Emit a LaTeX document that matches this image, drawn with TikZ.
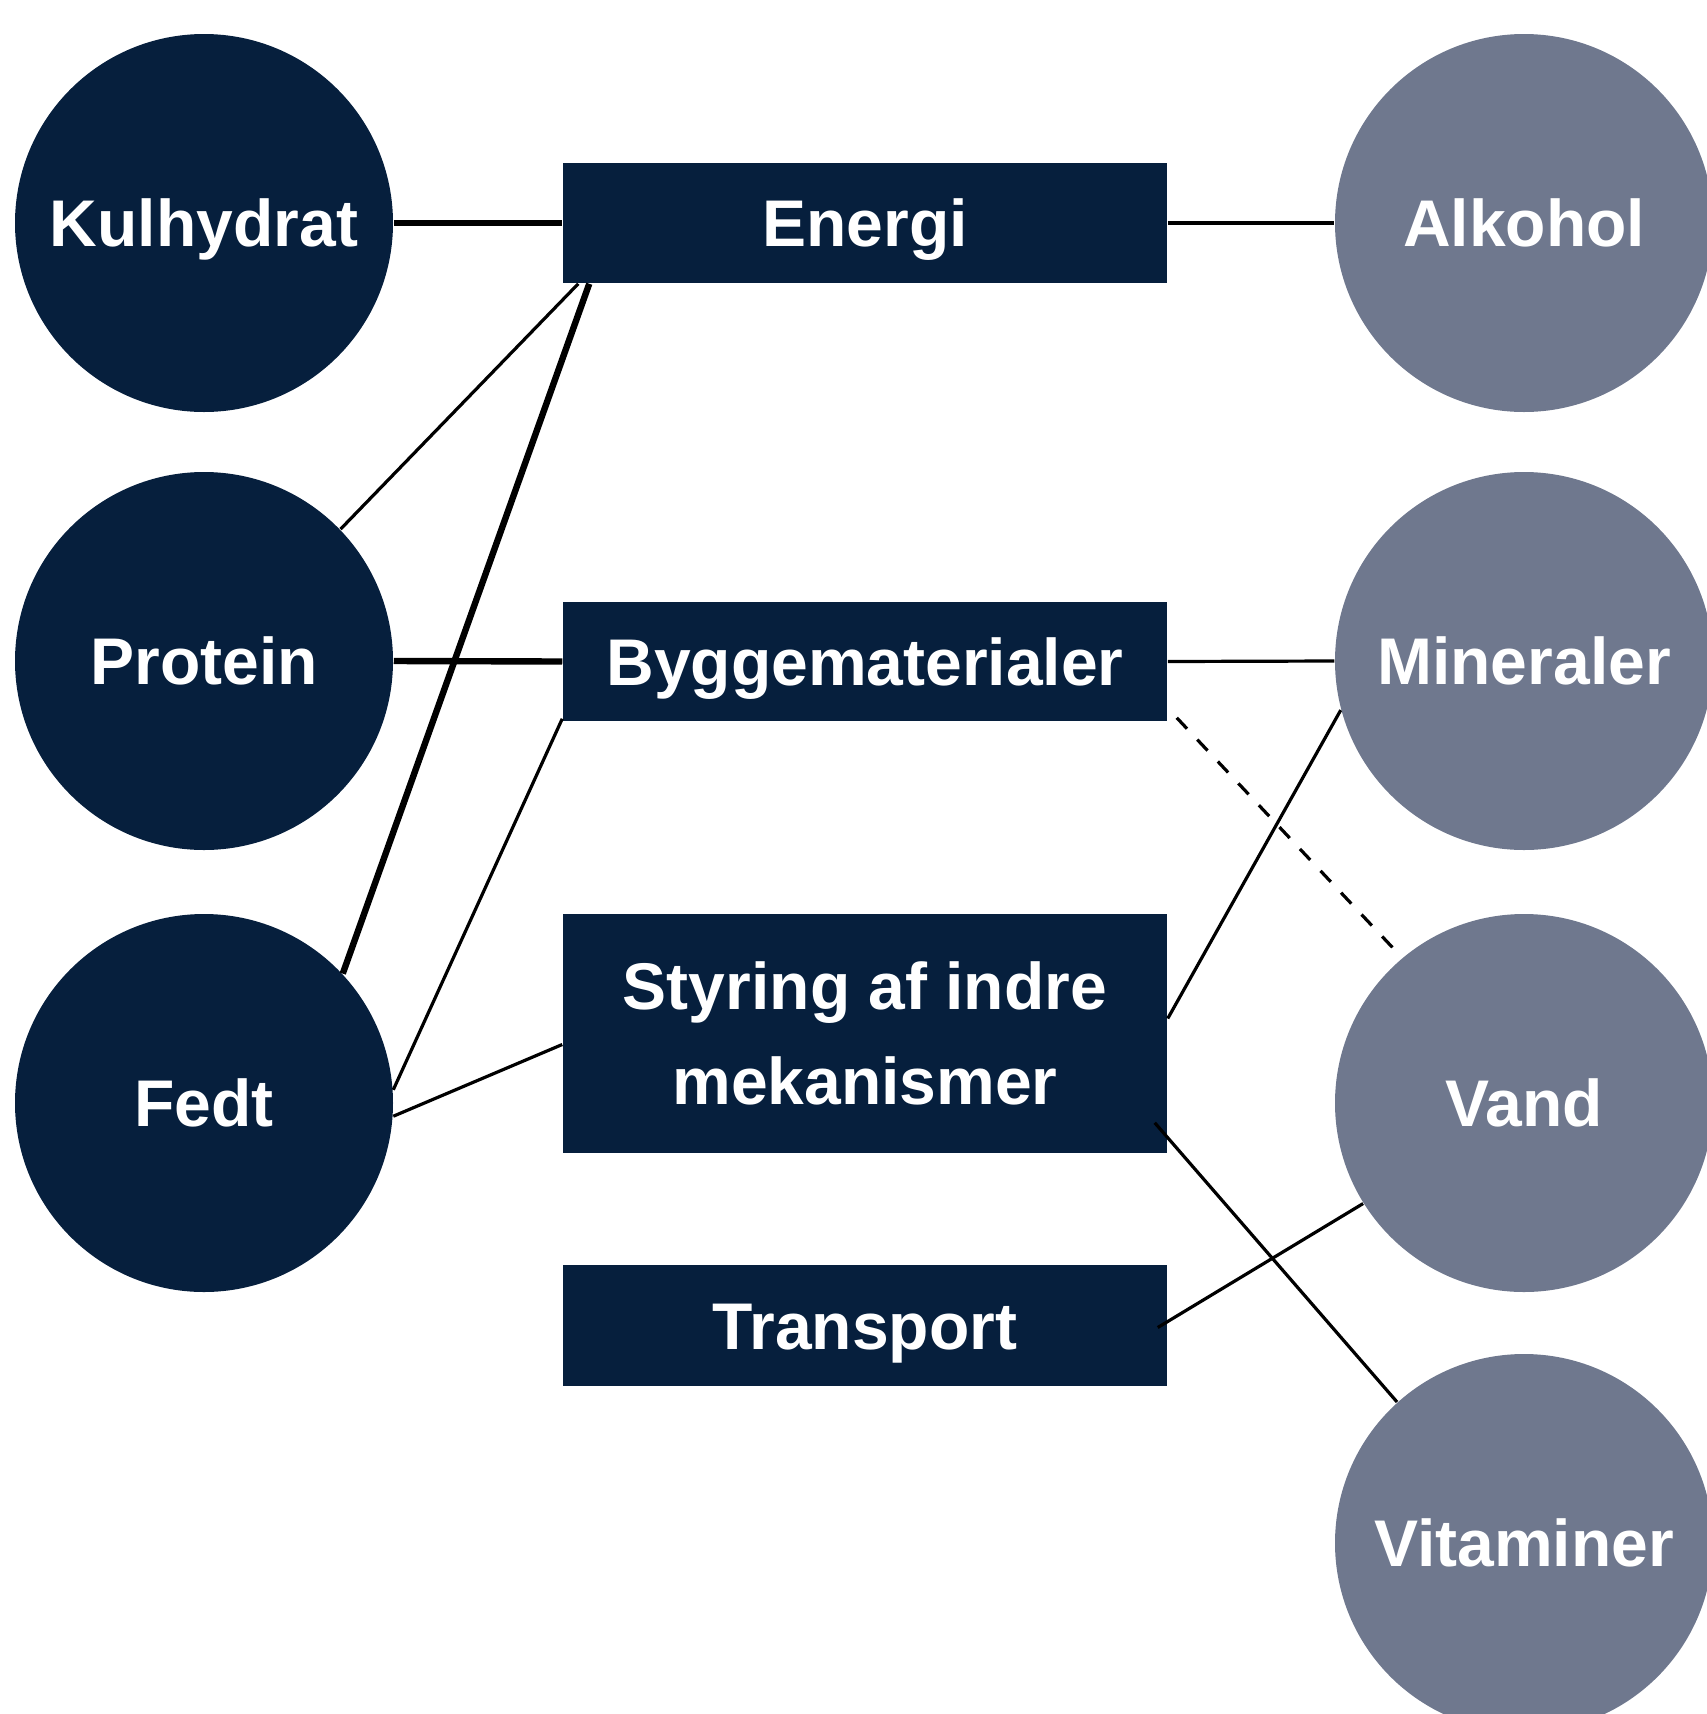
\documentclass[tikz,border=0pt]{standalone}
\usepackage{fontspec}
\setmainfont{Liberation Sans}
\usetikzlibrary{calc}

\definecolor{navy}{RGB}{6,31,61}
\definecolor{slate}{RGB}{111,120,142}

\tikzset{every picture/.style={line width=0.75pt}}
\tikzset{
  oneline/.style={text height=23.6pt, text depth=0pt},
  nutrient/.style={circle, fill=navy, text=white, inner sep=0pt, minimum size=189pt,
    oneline, font=\fontsize{33}{40}\selectfont\bfseries},
  extra/.style={nutrient, fill=slate},
  role/.style={rectangle, fill=navy, text=white, inner sep=0pt, minimum width=302pt,
    align=center, font=\fontsize{33}{47.5}\selectfont\bfseries},
  link/.style={line width=1.6pt},
  heavylink/.style={line width=3.2pt},
  maybelink/.style={line width=1.6pt, dash pattern=on 7.5pt off 7.5pt},
}

\begin{document}
\begin{tikzpicture}[x=0.5pt,y=0.5pt,yscale=-1,xscale=1]
\useasboundingbox (0,0) rectangle (1707,1714);
\clip (0,0) rectangle (1707,1714);

% Nutrients (left)
\node [nutrient] (kul) at (204,223) {Kulhydrat};
\node [nutrient] (prot) at (204,661) {Protein};
\node [nutrient] (fedt) at (204,1103) {Fedt};

% Nutrients (right)
\node [extra] (alk) at (1524,223) {Alkohol};
\node [extra] (min) at (1524,661) {Mineraler};
\node [extra] (vand) at (1524,1103) {Vand};
\node [extra] (vit) at (1524,1543) {Vitaminer};

% Roles
\node [role, oneline, minimum height=60pt] (energi) at (865,223) {Energi};
\node [role, oneline, minimum height=59.5pt] (bygge) at (865,661.5) {Byggematerialer};
\node [role, minimum height=119.5pt] (styr) at (865,1033.5) {Styring af indre\\mekanismer};
\node [role, oneline, minimum height=60.5pt] (trans) at (865,1325.5) {Transport};

%Straight Lines (left)
\draw [heavylink] (kul.east) -- (energi.west);
\draw [heavylink] (prot.east) -- (bygge.west);
\draw [link] (prot.44) -- ($(energi.south west)+(16,0)$);
\draw [heavylink] (fedt.43) -- ($(energi.south west)+(27,0)$);
\draw [link] (fedt.4) -- ($(bygge.south west)+(0,-3)$);
\draw [link] (fedt.-4) -- ($(styr.west)+(0,11)$);

%Straight Lines (right)
\draw [link] (energi.east) -- (alk.west);
\draw [link] (bygge.east) -- (min.west);
\draw [link] ($(styr.east)+(0,-15)$) -- (min.195);
\draw [maybelink, shorten >=3pt] ($(bygge.south east)+(9,-4)$) -- (vand.130);
\draw [link] ($(styr.south east)+(-13,-31)$) -- (vit.132);
\draw [link] ($(trans.east)+(-10,2)$) -- (vand.212);

\end{tikzpicture}
\end{document}
